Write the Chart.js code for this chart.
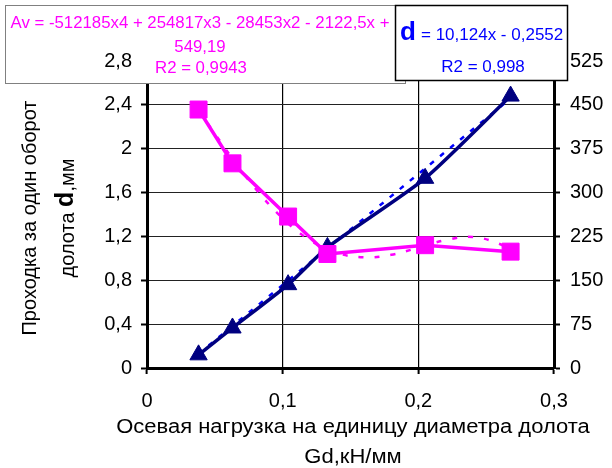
<!DOCTYPE html>
<html>
<head>
<meta charset="utf-8">
<script src="https://cdn.jsdelivr.net/npm/chart.js@4.4.0/dist/chart.umd.min.js"></script>
<style>
  html, body { margin: 0; padding: 0; background: #fff; }
  #chart { display: block; }
</style>
</head>
<body>
<canvas id="chart" width="612" height="468"></canvas>
<script>
// осевая нагрузка Gd, кН/мм
const loadX = [0.038, 0.063, 0.104, 0.133, 0.205, 0.268];
// проходка за оборот d, мм (левая ось)
const depthD = [0.12, 0.365, 0.76, 1.10, 1.73, 2.48];
// механическая скорость Av (правая ось)
const speedAv = [442, 350, 259, 195, 210, 199];

// линии тренда
const dTrendX = [0.038, 0.268];
const dTrendY = [0.13, 2.458];
const avTrendX = [0.038, 0.05, 0.0625, 0.08, 0.1, 0.12, 0.14, 0.16, 0.18, 0.2, 0.22, 0.24, 0.26, 0.268];
const avTrendY = [440.4, 400.6, 359.8, 306.8, 256.0, 218.9, 196.8, 189.3, 193.7, 205.6, 218.6, 224.2, 212.0, 199.6];

// подписи
const avEquation = ['Av = -512185x4 + 254817x3 - 28453x2 - 2122,5x +', '549,19', 'R2 = 0,9943'];
const dEquation = ['= 10,124x - 0,2552', 'R2 = 0,998'];
const yTitle = ['Проходка за один оборот', 'долота ', 'd', ',мм'];
const xTitle = ['Осевая нагрузка на единицу диаметра долота', 'Gd,кН/мм'];

const FONT = "'Liberation Sans', Arial, sans-serif";
const toPoints = (xs, ys) => xs.map((x, i) => ({ x, y: ys[i] }));
const comma = v => String(Math.round(v * 10) / 10).replace('.', ',');

const textPlugin = {
  id: 'texts',
  beforeDatasetsDraw(chart) {
    const ctx = chart.ctx;
    ctx.save();
    // рамка уравнения Av
    ctx.fillStyle = '#fff';
    ctx.fillRect(5, 5, 400, 79);
    ctx.strokeStyle = '#808080';
    ctx.lineWidth = 1;
    ctx.strokeRect(5.5, 5.5, 400, 78);
    ctx.fillStyle = '#ff00ff';
    ctx.textAlign = 'center';
    ctx.textBaseline = 'middle';
    ctx.font = '16.8px ' + FONT;
    ctx.fillText(avEquation[0], 200, 23);
    ctx.fillText(avEquation[1], 200, 47);
    ctx.fillText(avEquation[2], 201, 68);

    // рамка уравнения d
    ctx.fillStyle = '#fff';
    ctx.fillRect(395, 5, 173, 76);
    ctx.strokeStyle = '#000';
    ctx.lineWidth = 1.5;
    ctx.strokeRect(395.5, 5.5, 172, 75);
    ctx.fillStyle = '#0000ff';
    ctx.textAlign = 'left';
    ctx.textBaseline = 'alphabetic';
    ctx.font = 'bold 26px ' + FONT;
    ctx.fillText('d', 400, 40);
    ctx.font = '17px ' + FONT;
    ctx.textBaseline = 'middle';
    ctx.fillText(dEquation[0], 421, 35);
    ctx.textAlign = 'center';
    ctx.fillText(dEquation[1], 483, 67);
    ctx.restore();
  },
  afterDraw(chart) {
    const ctx = chart.ctx;
    ctx.save();
    ctx.fillStyle = '#000';
    ctx.textBaseline = 'middle';
    // заголовок оси Y
    ctx.translate(0, 218);
    ctx.rotate(-Math.PI / 2);
    ctx.textAlign = 'center';
    ctx.font = '20px ' + FONT;
    ctx.fillText(yTitle[0], 0, 30);
    const normal = '20px ' + FONT;
    const bold = 'bold 25px ' + FONT;
    ctx.font = normal;
    const w1 = ctx.measureText(yTitle[1]).width;
    const w3 = ctx.measureText(yTitle[3]).width;
    ctx.font = bold;
    const w2 = ctx.measureText(yTitle[2]).width;
    let pos = -(w1 + w2 + w3) / 2;
    ctx.textAlign = 'left';
    ctx.font = normal;
    ctx.fillText(yTitle[1], pos, 68);
    pos += w1;
    ctx.font = bold;
    ctx.fillText(yTitle[2], pos, 66);
    pos += w2;
    ctx.font = normal;
    ctx.fillText(yTitle[3], pos, 68);
    ctx.restore();

    // заголовок оси X, чуть растянут по ширине как в оригинале
    ctx.save();
    ctx.fillStyle = '#000';
    ctx.textAlign = 'center';
    ctx.textBaseline = 'middle';
    ctx.font = '20px ' + FONT;
    ctx.translate(353, 0);
    ctx.scale(1.1, 1);
    ctx.fillText(xTitle[0], 0, 427);
    ctx.fillText(xTitle[1], 0, 457);
    ctx.restore();
  }
};

const tickFont = { family: FONT, size: 20 };

new Chart(document.getElementById('chart'), {
  type: 'scatter',
  data: {
    datasets: [
      {
        data: toPoints(loadX, speedAv),
        yAxisID: 'y1',
        showLine: true,
        borderColor: '#ff00ff',
        backgroundColor: '#ff00ff',
        borderWidth: 3.5,
        pointStyle: 'rect',
        pointRadius: 12,
        pointBorderWidth: 1,
        tension: 0
      },
      {
        data: toPoints(avTrendX, avTrendY),
        yAxisID: 'y1',
        showLine: true,
        borderColor: '#ff00ff',
        borderWidth: 2.5,
        borderDash: [5, 11],
        pointRadius: 0,
        tension: 0.4
      },
      {
        data: toPoints(loadX, depthD),
        yAxisID: 'y',
        showLine: true,
        borderColor: '#000080',
        backgroundColor: '#000080',
        borderWidth: 3.5,
        pointStyle: 'triangle',
        pointRadius: 10,
        pointBorderWidth: 1,
        tension: 0.2
      },
      {
        data: toPoints(dTrendX, dTrendY),
        yAxisID: 'y',
        showLine: true,
        borderColor: '#0000ff',
        borderWidth: 2.5,
        borderDash: [5, 8],
        pointRadius: 0
      }
    ]
  },
  options: {
    responsive: false,
    animation: false,
    layout: { padding: { top: 61, left: 0, right: 0, bottom: 0 } },
    plugins: {
      legend: { display: false },
      tooltip: { enabled: false }
    },
    scales: {
      x: {
        type: 'linear',
        min: 0,
        max: 0.3,
        ticks: { stepSize: 0.1, padding: 15, color: '#000', font: tickFont, callback: comma },
        grid: { color: '#000', lineWidth: 1.2, tickLength: 6, tickColor: '#000', tickWidth: 2 },
        border: { color: '#000', width: 3 },
        afterFit: s => { s.height = 100; }
      },
      y: {
        position: 'left',
        min: 0,
        max: 2.8,
        ticks: { stepSize: 0.4, padding: 9, color: '#000', font: tickFont, callback: comma, z: 1 },
        grid: { color: '#222', lineWidth: 1, tickLength: 6, tickColor: '#000', tickWidth: 2 },
        border: { color: '#000', width: 3 },
        afterFit: s => { s.width = 147; }
      },
      y1: {
        position: 'right',
        min: 0,
        max: 525,
        ticks: { stepSize: 75, padding: 10, color: '#000', font: tickFont },
        grid: { drawOnChartArea: false, tickLength: 6, tickColor: '#000', tickWidth: 2 },
        border: { color: '#000', width: 3 },
        afterFit: s => { s.width = 58; }
      }
    }
  },
  plugins: [textPlugin]
});
</script>
</body>
</html>
